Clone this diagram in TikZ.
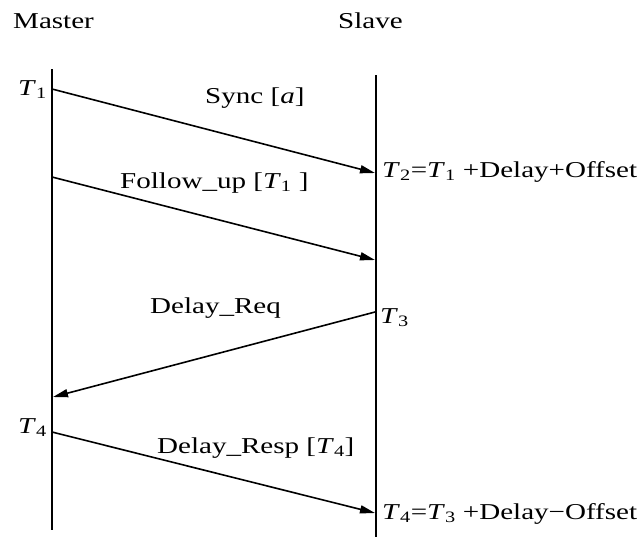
\documentclass[tikz,border=0pt]{standalone}
\usepackage{fontspec}
\setmainfont{Liberation Serif}[FakeStretch=1.28]
\usetikzlibrary{arrows.meta}
\newcommand{\tm}[1]{\textit{T}\textsubscript{#1}}
\tikzset{
  txt/.style={inner sep=0pt, anchor=base west, font=\fontsize{22.7}{25}\selectfont},
  msg/.style={line width=1.6pt, -{Triangle[length=15pt, width=8pt]}},
  life/.style={line width=2.4pt}
}
\begin{document}
\begin{tikzpicture}[x=1pt, y=-1pt]
\useasboundingbox (0,0) rectangle (644,541);
% life lines
\coordinate (mtop) at (52,69);
\coordinate (mbot) at (52,530);
\coordinate (stop) at (376,75);
\coordinate (sbot) at (376,537);
\draw[life] (mtop) -- (mbot);
\draw[life] (stop) -- (sbot);
% message end points
\coordinate (t1) at (52,89);
\coordinate (t2) at (375,173);
\coordinate (f1) at (52,177);
\coordinate (f2) at (375,260);
\coordinate (t3) at (375,312);
\coordinate (r2) at (53,397);
\coordinate (t4) at (52,432);
\coordinate (e2) at (375,513);
\draw[msg] (t1) -- (t2);
\draw[msg] (f1) -- (f2);
\draw[msg] (t3) -- (r2);
\draw[msg] (t4) -- (e2);
% labels
\node[txt] (master) at (13,28) {Master};
\node[txt] (slave) at (338,28) {Slave};
\node[txt] (lt1) at (18,95) {\tm{1}};
\node[txt] (sync) at (205,103) {Sync [\textit{a}]};
\node[txt] (lt2) at (382,177) {\tm{2}=\tm{1} +Delay+Offset};
\node[txt] (follow) at (120,188) {Follow\_up [\tm{1} ]};
\node[txt] (dreq) at (150,313) {Delay\_Req};
\node[txt] (lt3) at (380,323) {\tm{3}};
\node[txt] (lt4) at (18,433) {\tm{4}};
\node[txt] (dresp) at (157,453) {Delay\_Resp [\tm{4}]};
\node[txt] (lt5) at (382,519) {\tm{4}=\tm{3} +Delay−Offset};
\end{tikzpicture}
\end{document}
